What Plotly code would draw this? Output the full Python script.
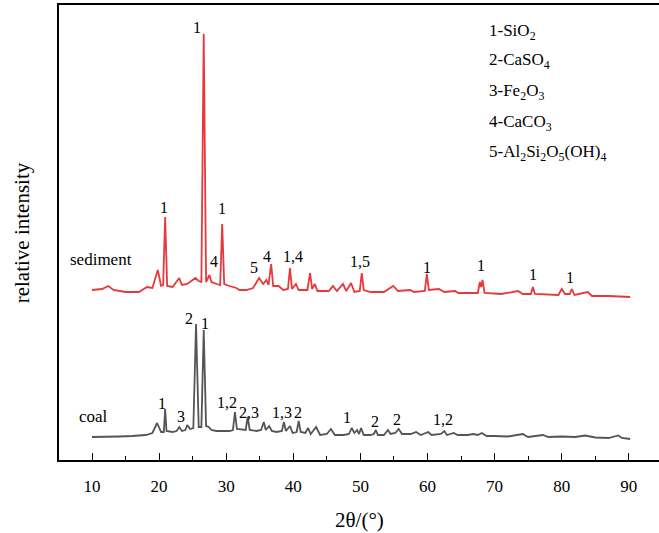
import plotly.graph_objects as go

# ---- data: 2theta (deg) and relative intensity (arb. units) ----
coal_2theta = [10.0, 12, 14, 16, 18, 19.0, 19.7, 20.3, 20.7, 20.9, 21.1, 22.0, 22.6, 23.0, 23.4, 23.9, 24.2, 24.6,
               25.1, 25.5, 25.9, 26.3, 26.65, 27.0, 27.4, 27.8, 28.5, 29.5, 30.5, 31.0, 31.3, 31.6, 32.4, 32.9, 33.2,
               33.5, 34.5, 35.2, 35.6, 35.9, 36.4, 36.8, 37.5, 38.3, 38.6, 38.9, 39.5, 39.9, 40.5, 40.8, 41.1, 41.8,
               42.2, 42.6, 43.4, 44.0, 45.0, 45.6, 46.2, 47.5, 48.3, 48.7, 49.1, 49.5, 49.8, 50.1, 50.5, 51.5, 52.0,
               52.3, 52.6, 53.5, 54.1, 54.5, 55.2, 55.7, 56.2, 57.5, 58.3, 59.0, 60.1, 60.6, 62.0, 62.5, 62.9, 63.9,
               64.5, 66.0, 66.8, 67.5, 68.1, 68.8, 70, 72, 74.2, 75, 77.2, 78, 80, 82, 83.5, 85, 87, 88.4, 89.0, 90.2]
coal_int = [23, 23, 23.5, 24, 25, 27, 37, 28, 28, 51, 29, 28, 29, 33, 29, 30, 35, 31,
            32, 136, 33, 33, 130, 34, 33, 30, 29, 29, 29, 30, 48, 31, 30, 30, 43,
            30, 29, 30, 38, 30, 34, 29, 28, 29, 38, 29, 34, 27, 28, 39, 28, 27,
            32, 26, 33, 25, 26, 31, 25, 25, 26, 32, 27, 30, 26, 32, 25, 25, 26,
            30, 25, 25, 30, 26, 27, 31, 26, 26, 28, 25, 28, 25, 26, 29, 25, 27,
            25, 25, 26, 25, 27, 24, 24, 23.5, 26, 23, 25, 23, 23.5, 23, 24.5, 22.5, 22, 24.5, 22, 21]

sed_2theta = [10.0, 11.5, 12.4, 13.2, 15, 17, 18.2, 19.0, 19.8, 20.3, 20.6, 20.9, 21.2, 22.0, 23.0, 23.4, 24.2,
              24.9, 25.4, 25.9, 26.3, 26.65, 27.0, 27.5, 27.8, 28.6, 29.1, 29.4, 29.7, 30.5, 31.0, 31.5, 32.0,
              33.0, 34.0, 34.9, 35.5, 36.0, 36.3, 36.7, 37.0, 37.8, 38.5, 39.2, 39.5, 39.8, 40.4, 40.8, 42.1,
              42.5, 42.8, 43.2, 43.6, 45.3, 45.9, 46.5, 47.4, 47.9, 48.6, 49.1, 49.9, 50.2, 50.5, 51.5, 53.5,
              54.9, 55.6, 57.4, 58.0, 59.6, 59.9, 60.2, 61.7, 62.5, 64.1, 64.6, 67.5, 67.8, 68.0, 68.2, 68.5,
              71, 73.5, 74.2, 75.4, 75.7, 76.0, 79.5, 80.0, 80.5, 81.2, 81.5, 81.9, 83.9, 84.5, 87, 90.2]
sed_int = [170, 171, 174, 170, 168, 168, 173, 172, 190, 174, 175, 243, 174, 173, 182, 175, 176,
           180, 182, 179, 178, 426, 178, 185, 178, 176, 175, 236, 176, 174, 173, 172, 170,
           170, 172, 182, 176, 180, 175, 196, 174, 174, 170, 171, 192, 171, 176, 170, 170,
           187, 171, 176, 169, 169, 174, 169, 176, 169, 177, 168, 169, 187, 170, 168, 168,
           174, 169, 170, 168, 169, 186, 170, 171, 168, 169, 167, 167, 178, 173, 180, 167,
           166, 169, 166, 166, 173, 166, 165, 171, 166, 166, 171, 165, 168, 164, 164, 163]

# peak labels
sed_lab_text = ["1", "1", "1", "4", "5", "4", "1,4", "1,5", "1", "1", "1", "1"]
sed_lab_x = [25.65, 20.73, 29.37, 28.18, 34.14, 36.08, 39.96, 49.94, 59.93, 67.97, 75.72, 81.24]
sed_lab_y = [433, 253, 252, 199, 193, 204, 204, 199, 193, 195, 186, 183]

coal_lab_text = ["2", "1", "1", "3", "1,2", "2,3", "1,3", "2", "1", "2", "2", "1,2"]
coal_lab_x = [24.46, 26.84, 20.43, 23.26, 30.12, 33.40, 38.32, 40.70, 48.0, 52.18, 55.45, 62.31]
coal_lab_y = [142, 137, 57, 44, 58, 48, 48, 48, 43, 39, 41, 41]

series_names = ["sediment", "coal"]
series_name_x = [11.3, 10.15]
series_name_y = [201, 44]

legend_lines = ["1-SiO<sub>2</sub>", "2-CaSO<sub>4</sub>", "3-Fe<sub>2</sub>O<sub>3</sub>",
                "4-CaCO<sub>3</sub>", "5-Al<sub>2</sub>Si<sub>2</sub>O<sub>5</sub>(OH)<sub>4</sub>"]
legend_y = [428, 399, 368, 337, 307]

x_ticks = [10, 20, 30, 40, 50, 60, 70, 80, 90]

FONT = "'Liberation Serif', 'Times New Roman', Times, serif"
RED = "#e8383c"
GRAY = "#555555"

fig = go.Figure()
fig.add_trace(go.Scatter(x=sed_2theta, y=sed_int, mode="lines", line=dict(color=RED, width=1.8),
                         showlegend=False, hoverinfo="skip"))
fig.add_trace(go.Scatter(x=coal_2theta, y=coal_int, mode="lines", line=dict(color=GRAY, width=1.8),
                         showlegend=False, hoverinfo="skip"))

ann = []
for t, x, y in zip(sed_lab_text + coal_lab_text, sed_lab_x + coal_lab_x, sed_lab_y + coal_lab_y):
    ann.append(dict(x=x, y=y, xref="x", yref="y", text=t, showarrow=False,
                    font=dict(family=FONT, size=16, color="black"), xanchor="center", yanchor="middle"))
for t, x, y in zip(series_names, series_name_x, series_name_y):
    ann.append(dict(x=x, y=y, xref="x", yref="y", text=t, showarrow=False,
                    font=dict(family=FONT, size=17, color="black"), xanchor="center", yanchor="middle"))
for t, y in zip(legend_lines, legend_y):
    ann.append(dict(x=0.713, y=y, xref="paper", yref="y", text=t, showarrow=False,
                    font=dict(family=FONT, size=17, color="black"), xanchor="left", yanchor="middle"))
ann.append(dict(x=-0.062, y=0.5, xref="paper", yref="paper", text="relative intensity", textangle=-90,
                showarrow=False, font=dict(family=FONT, size=21, color="black"),
                xanchor="center", yanchor="middle"))
ann.append(dict(x=0.5, y=-0.132, xref="paper", yref="paper", text="2θ/(°)",
                showarrow=False, font=dict(family=FONT, size=21, color="black"),
                xanchor="center", yanchor="middle"))

fig.update_layout(
    width=659, height=533,
    margin=dict(l=59, r=0, t=5, b=73),
    paper_bgcolor="white", plot_bgcolor="white",
    font=dict(family=FONT, size=16, color="black"),
    annotations=ann,
    xaxis=dict(range=[5.08, 94.5], tickvals=x_ticks, ticks="inside", ticklen=7, tickwidth=1.2,
               tickcolor="black", showline=True, linecolor="black", linewidth=1.6, mirror=True,
               showgrid=False, zeroline=False, tickfont=dict(family=FONT, size=17),
               ticklabelstandoff=10,
               minor=dict(dtick=5, ticks="inside", ticklen=4, tickwidth=1.2, tickcolor="black", showgrid=False)),
    yaxis=dict(range=[0, 455], showticklabels=False, ticks="", showline=True, linecolor="black",
               linewidth=1.6, mirror=False, showgrid=False, zeroline=False),
)

fig.write_html("out.html")
